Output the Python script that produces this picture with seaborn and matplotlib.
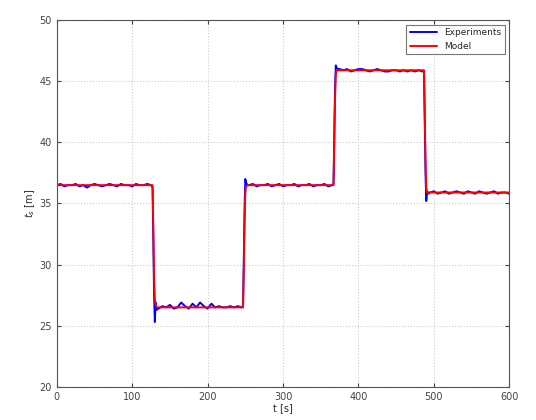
import matplotlib
matplotlib.use("Agg")
import matplotlib.pyplot as plt
import seaborn as sns
import pandas as pd
import numpy as np

# ---- data ----
exp_t = (list(range(0, 126, 5)) + [127, 128, 129, 130, 131, 132]
         + list(range(135, 246, 5)) + [247, 248, 249, 250, 251, 253]
         + list(range(255, 366, 5)) + [367, 368, 369, 370, 371, 373]
         + list(range(375, 486, 5)) + [487, 488, 489, 490, 491, 493]
         + list(range(495, 601, 5)))
exp_v = ([36.5, 36.6, 36.4, 36.5, 36.5, 36.6, 36.4, 36.5, 36.3, 36.5, 36.6, 36.5, 36.4,
          36.5, 36.6, 36.5, 36.4, 36.6, 36.5, 36.5, 36.4, 36.6, 36.5, 36.5, 36.6, 36.5]
         + [36.3, 32.0, 27.5, 25.3, 26.9, 26.3]
         + [26.4, 26.6, 26.5, 26.7, 26.4, 26.5, 26.9, 26.6, 26.4, 26.8, 26.5, 26.9, 26.6,
            26.4, 26.8, 26.5, 26.6, 26.5, 26.5, 26.6, 26.5, 26.6, 26.5]
         + [26.6, 30.5, 34.5, 37.0, 36.7, 36.5]
         + [36.5, 36.6, 36.4, 36.5, 36.5, 36.6, 36.4, 36.5, 36.6, 36.4, 36.5, 36.5, 36.6,
            36.4, 36.5, 36.5, 36.6, 36.4, 36.5, 36.5, 36.6, 36.4, 36.5]
         + [36.6, 40.5, 44.5, 46.3, 46.1, 46.0]
         + [46.0, 45.9, 46.0, 45.8, 45.9, 46.0, 46.0, 45.9, 45.8, 45.9, 46.0, 45.9, 45.8,
            45.8, 45.9, 45.9, 45.8, 45.9, 45.8, 45.9, 45.8, 45.9, 45.8]
         + [45.8, 41.5, 37.5, 35.2, 36.0, 35.8]
         + [35.9, 36.0, 35.8, 35.9, 36.0, 35.8, 35.9, 36.0, 35.9, 35.8, 36.0, 35.9, 35.8,
            36.0, 35.9, 35.8, 35.9, 36.0, 35.8, 35.9, 35.9, 35.8])

model_t = [0, 127, 128, 129, 130, 131, 133, 135, 247, 248, 249, 250, 251, 253,
           367, 368, 369, 370, 371, 373, 487, 488, 489, 490, 491, 493, 600]
model_v = [36.5, 36.5, 33.0, 29.0, 27.2, 26.7, 26.5, 26.5, 26.5, 29.5, 33.5, 35.8, 36.4, 36.5,
           36.5, 40.0, 43.5, 45.5, 45.9, 45.9, 45.9, 42.5, 38.5, 36.3, 35.9, 35.9, 35.9]

x_ticks = [0, 100, 200, 300, 400, 500, 600]
y_ticks = [20, 25, 30, 35, 40, 45, 50]

df = pd.concat([
    pd.DataFrame({"t": exp_t, "v": exp_v, "series": "Experiments"}),
    pd.DataFrame({"t": model_t, "v": model_v, "series": "Model"}),
], ignore_index=True)

sns.set_style("whitegrid")
plt.rcParams["font.family"] = ["DejaVu Sans"]

fig = plt.figure(figsize=(5.36, 4.2), dpi=100)
ax = fig.add_axes([0.106, 0.079, 0.844, 0.873])

sns.lineplot(data=df, x="t", y="v", hue="series", sort=False,
             palette={"Experiments": "#0000ff", "Model": "#ff0000"},
             linewidth=1.4, ax=ax, estimator=None)

ax.set_xlim(0, 600)
ax.set_ylim(20, 50)
ax.set_xticks(x_ticks)
ax.set_yticks(y_ticks)
ax.tick_params(direction="in", length=3, labelsize=7, colors="#444444",
               top=True, right=True, bottom=True, left=True)
ax.grid(True, linestyle=":", color="#cccccc", linewidth=0.8)
for s in ax.spines.values():
    s.set_color("#555555")
    s.set_linewidth(0.8)
ax.set_xlabel("t [s]", fontsize=7, labelpad=1)
ax.set_ylabel("$t_s$ [m]", fontsize=7, labelpad=2)

leg = ax.legend(loc="upper right", fontsize=6.5, frameon=True, fancybox=False,
                borderaxespad=0.5, handlelength=3)
leg.get_frame().set_edgecolor("#555555")
leg.get_frame().set_linewidth(0.8)
leg.set_title(None)

fig.savefig("out.png", dpi=100)
